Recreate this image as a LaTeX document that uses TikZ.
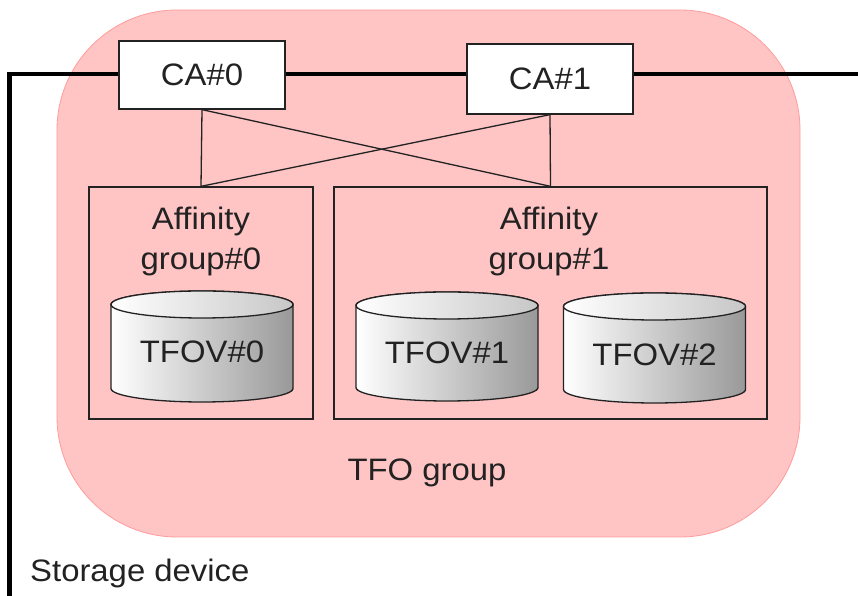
\documentclass[tikz,border=0pt]{standalone}
\usepackage{fontspec}
\setmainfont{Liberation Sans}[FakeStretch=1.06]
\definecolor{tfopink}{HTML}{FFC4C4}
\definecolor{tfoedge}{HTML}{FF9C9C}
\definecolor{ink}{HTML}{222222}

% volume drum: name, centre x, top ellipse y, bottom ellipse y, label y, label
\newcommand\volumedrum[6]{%
  \shadedraw[left color=white, right color=black!40, draw=ink, line width=1.3pt]
    (#2-91,#3) -- (#2-91,#4)
    arc[start angle=180, end angle=360, x radius=91pt, y radius=13.5pt]
    -- (#2+91,#3)
    arc[start angle=0, end angle=180, x radius=91pt, y radius=13.5pt] -- cycle;
  \shadedraw[left color=white, right color=black!22, draw=ink, line width=1.3pt]
    (#2,#3) ellipse[x radius=91pt, y radius=13.5pt];
  \node[lbl] (#1) at (#2,#5) {#6};
}

\begin{document}
\begin{tikzpicture}[x=1pt, y=1pt,
  lbl/.style={font=\fontsize{31}{40}\selectfont, text=ink, inner sep=0pt},
  cabox/.style={draw=ink, line width=1.3pt, fill=white, inner sep=0pt,
    minimum width=166pt},
  agbox/.style={draw=ink, line width=1.3pt, inner sep=0pt},
  link/.style={draw=ink, line width=1.3pt},
  outline/.style={draw=black, line width=4.5pt, line join=miter}]
\useasboundingbox (0,0) rectangle (858,596);

% TFO group area
\node[fill=tfopink, draw=tfoedge, line width=0.8pt, rounded corners=120pt,
  minimum width=743pt, minimum height=527pt, inner sep=0pt] (tfo) at (428.5,322.5) {};
\node[lbl, anchor=base] (tfolabel) at (427,115) {TFO group};

% storage device outline
\coordinate (top) at (9.5,522);
\coordinate (bottomleft) at (9.5,-5);
\coordinate (rightend) at (862,522);

% channel adapters
\node[cabox, lbl, minimum height=68pt] (ca0) at (202,521) {CA\#0};
\node[cabox, lbl, minimum height=70pt] (ca1) at (550,517) {CA\#1};

\draw[outline] (bottomleft) -- (top) -- (ca0.west |- top);
\draw[outline] (ca0.east |- top) -- (ca1.west |- top);
\draw[outline] (ca1.east |- top) -- (rightend);

\node[lbl, anchor=base west] (storage) at (30,14) {Storage device};

% affinity groups
\node[agbox, minimum width=224pt, minimum height=232pt] (ag0) at (201,293) {};
\node[agbox, minimum width=433pt, minimum height=232pt] (ag1) at (550.5,293) {};
\node[lbl, align=center] (ag0label) at (201,355) {Affinity\\group\#0};
\node[lbl, align=center] (ag1label) at (549,355) {Affinity\\group\#1};

% paths from adapters to affinity groups
\draw[link] (ca0.south) -- (ag0.north);
\draw[link] (ca0.south) -- (ag1.north);
\draw[link] (ca1.south) -- (ag0.north);
\draw[link] (ca1.south) -- (ag1.north);

% volumes
\volumedrum{tfov0}{202}{291.5}{207.5}{244}{TFOV\#0}
\volumedrum{tfov1}{447}{290.5}{208.5}{243}{TFOV\#1}
\volumedrum{tfov2}{654.5}{289.5}{206.5}{241.5}{TFOV\#2}
\end{tikzpicture}
\end{document}
